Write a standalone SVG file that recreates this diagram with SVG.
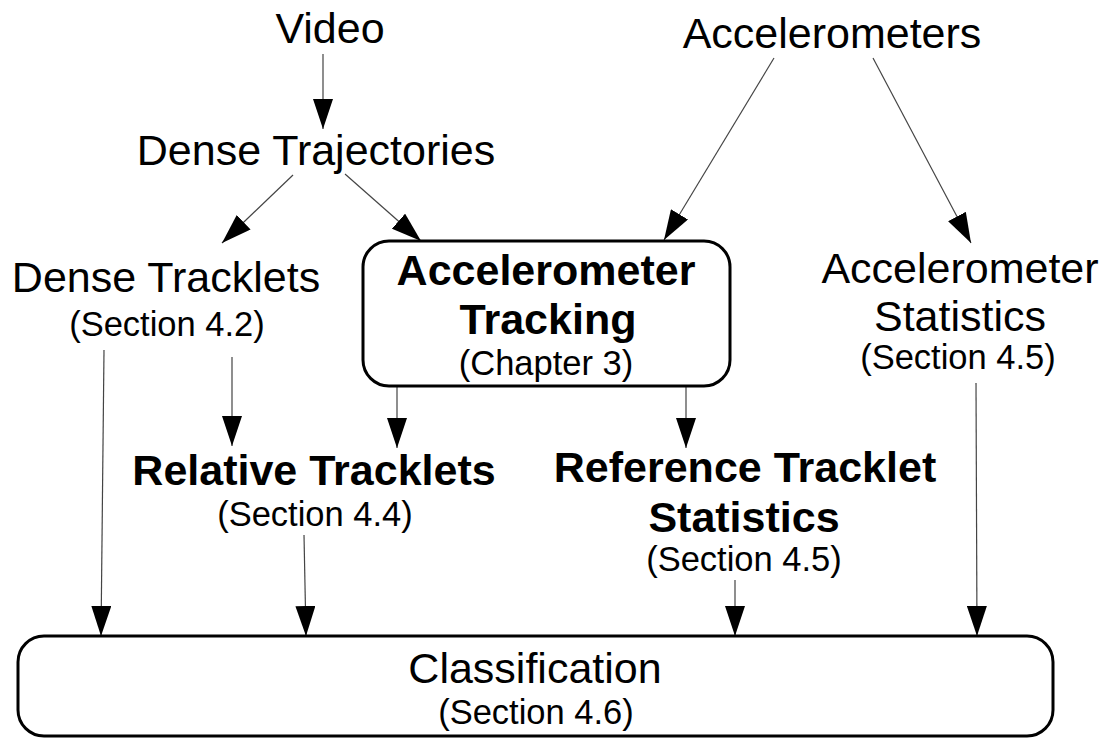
<svg xmlns="http://www.w3.org/2000/svg" width="1117" height="738" viewBox="0 0 1117 738">
<style>
text{font-family:"Liberation Sans",Arial,sans-serif;fill:#000;text-anchor:middle}
.t{font-size:43px}
.b{font-size:43px;font-weight:bold}
.s{font-size:34.5px}
.box{fill:#fff;stroke:#000;stroke-width:3}
.c line{stroke:#444;stroke-width:1.2;marker-end:url(#ah)}
</style>
<defs>
<marker id="ah" markerUnits="userSpaceOnUse" markerWidth="30" markerHeight="20" viewBox="0 0 30 20" refX="30" refY="10" orient="auto">
<path d="M0,0 L30,10 L0,20 z" fill="#000"/>
</marker>
</defs>
<rect width="1117" height="738" fill="#fff"/>
<g id="connectors" class="c">
<line x1="323" y1="54" x2="323" y2="129"/>
<line x1="293" y1="175" x2="222" y2="243"/>
<line x1="345" y1="174" x2="421" y2="241"/>
<line x1="774" y1="58" x2="664" y2="240"/>
<line x1="873" y1="58" x2="971" y2="243"/>
<line x1="104" y1="350" x2="101" y2="636"/>
<line x1="232" y1="357" x2="232" y2="446"/>
<line x1="397" y1="387" x2="397" y2="448"/>
<line x1="686" y1="387" x2="686" y2="448"/>
<line x1="304" y1="535" x2="306" y2="636"/>
<line x1="735" y1="580" x2="735" y2="636"/>
<line x1="976" y1="383" x2="977" y2="636"/>
</g>
<g id="video"><text class="t" x="330" y="43">Video</text></g>
<g id="accelerometers"><text class="t" x="832" y="48">Accelerometers</text></g>
<g id="dense-trajectories"><text class="t" x="316" y="165">Dense Trajectories</text></g>
<g id="dense-tracklets">
<text class="t" x="166" y="292">Dense Tracklets</text>
<text class="s" x="167" y="336">(Section 4.2)</text>
</g>
<g id="accelerometer-tracking">
<rect class="box" x="363" y="241" width="367" height="145" rx="26"/>
<text class="b" x="546" y="285">Accelerometer</text>
<text class="b" x="548" y="334">Tracking</text>
<text class="s" x="546" y="375">(Chapter 3)</text>
</g>
<g id="accelerometer-statistics">
<text class="t" x="960" y="283">Accelerometer</text>
<text class="t" x="960" y="331">Statistics</text>
<text class="s" x="958" y="369">(Section 4.5)</text>
</g>
<g id="relative-tracklets">
<text class="b" x="314" y="485">Relative Tracklets</text>
<text class="s" x="315" y="526">(Section 4.4)</text>
</g>
<g id="reference-tracklet-statistics">
<text class="b" x="745" y="482">Reference Tracklet</text>
<text class="b" x="744" y="532">Statistics</text>
<text class="s" x="744" y="571">(Section 4.5)</text>
</g>
<g id="classification">
<rect class="box" x="18" y="636" width="1035" height="100" rx="26"/>
<text class="t" x="535" y="683">Classification</text>
<text class="s" x="536" y="724">(Section 4.6)</text>
</g>
</svg>
